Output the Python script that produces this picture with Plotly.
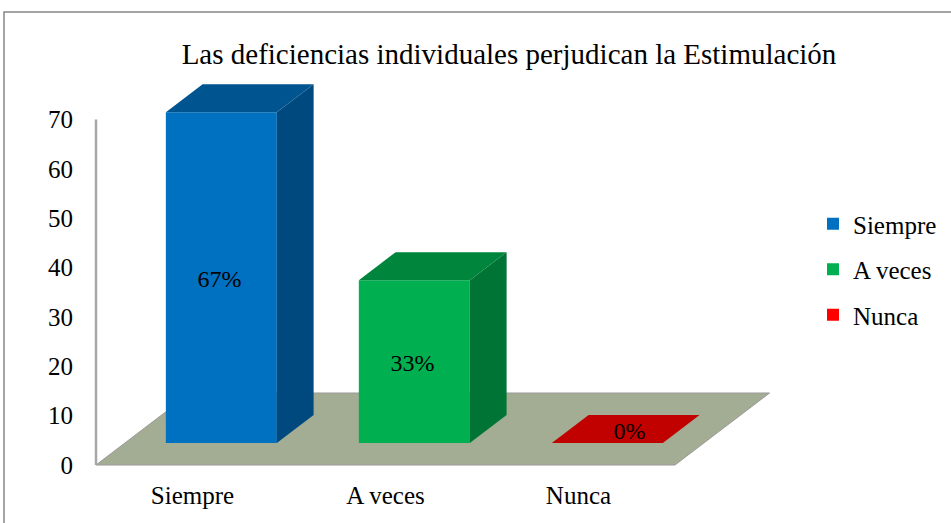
import plotly.graph_objects as go

# ---- data ----
categories = ["Siempre", "A veces", "Nunca"]
values = [67, 33, 0]
labels = ["67%", "33%", "0%"]
colors = ["#0070C0", "#00B050", "#FF0000"]
yticks = [0, 10, 20, 30, 40, 50, 60, 70]
title = "Las deficiencias individuales perjudican la Estimulación"

FONT = "Liberation Serif"

# ---- pseudo-3D projection parameters (axis units) ----
DX, DY = 0.490, 14.59      # full floor depth vector
F1, F2 = 0.305, 0.694      # bar front / back depth fractions
W = 0.575                  # bar width
XMIN, XMAX = -0.5518, 3.096
YMIN, YMAX = -1.013, 78.0
L, R, T, B = 86, 161, 80, 53
PW, PH = 951 - L - R, 523 - T - B


def shade(hexcol, k):
    h = hexcol.lstrip("#")
    r, g, b = (int(h[i:i + 2], 16) for i in (0, 2, 4))
    return "#%02X%02X%02X" % (int(r * k), int(g * k), int(b * k))


fig = go.Figure()

ddx, ddy = (F2 - F1) * DX, (F2 - F1) * DY
yb = F1 * DY
n = len(categories)

# front faces as bars
for i, (c, v, col) in enumerate(zip(categories, values, colors)):
    xc = i + F1 * DX
    fig.add_trace(go.Bar(
        x=[xc], y=[v], base=[yb], width=[W], name=c,
        marker=dict(color=col, line=dict(width=0)),
        legendgroup=c, showlegend=True, hoverinfo="skip",
    ))

# side and top faces
for i, (c, v, col) in enumerate(zip(categories, values, colors)):
    xc = i + F1 * DX
    x0, x1 = xc - W / 2, xc + W / 2
    yt = yb + v
    if v > 0:
        fig.add_trace(go.Scatter(
            x=[x1, x1, x1 + ddx, x1 + ddx, x1], y=[yb, yt, yt + ddy, yb + ddy, yb],
            fill="toself", fillcolor=shade(col, 0.66), mode="lines",
            line=dict(width=0, color=shade(col, 0.66)),
            showlegend=False, hoverinfo="skip", legendgroup=c))
    fig.add_trace(go.Scatter(
        x=[x0, x1, x1 + ddx, x0 + ddx, x0], y=[yt, yt, yt + ddy, yt + ddy, yt],
        fill="toself", fillcolor=shade(col, 0.76), mode="lines",
        line=dict(width=0, color=shade(col, 0.76)),
        showlegend=False, hoverinfo="skip", legendgroup=c))

# data labels
lx, ly = [], []
for i, v in enumerate(values):
    xc = i + F1 * DX
    if v > 0:
        lx.append(xc - 0.01); ly.append(yb + v / 2 - 0.7)
    else:
        lx.append(xc + ddx / 2 + 0.02); ly.append(yb + ddy / 2 - 0.9)
fig.add_trace(go.Scatter(
    x=lx, y=ly, mode="text", text=labels, cliponaxis=False,
    textfont=dict(family=FONT, size=24, color="black"),
    showlegend=False, hoverinfo="skip"))

# vertical axis line
fig.add_trace(go.Scatter(
    x=[-0.5, -0.5], y=[0, max(yticks)], mode="lines",
    line=dict(color="#A6A6A6", width=2.5), showlegend=False, hoverinfo="skip"))

# floor
fx0, fx1 = -0.5, n - 0.5
floor_path = (f"M {fx0},0 L {fx1},0 L {fx1 + DX},{DY} L {fx0 + DX},{DY} Z")
shapes = [
    dict(type="path", xref="x", yref="y", path=floor_path,
         fillcolor="#A3AD93", line=dict(color="#9A9A9A", width=1), layer="below"),
    # chart-area border
    dict(type="rect", xref="paper", yref="paper",
         x0=(4 - L) / PW, x1=(960 - L) / PW,
         y0=(523 - B - 540) / PH, y1=(523 - B - 12) / PH,
         line=dict(color="#868686", width=1.5), fillcolor="rgba(0,0,0,0)", layer="above"),
]

fig.update_layout(
    width=951, height=523,
    margin=dict(l=L, r=R, t=T, b=B, autoexpand=False),
    paper_bgcolor="white", plot_bgcolor="white",
    barmode="overlay",
    font=dict(family=FONT, size=25, color="black"),
    title=dict(text=title, x=509 / 951, xanchor="center", y=1 - 54 / 523, yanchor="middle",
               font=dict(family=FONT, size=29, color="black")),
    xaxis=dict(range=[XMIN, XMAX], tickvals=list(range(n)), ticktext=categories,
               showgrid=False, zeroline=False, showline=False, ticks="", automargin=False,
               tickfont=dict(family=FONT, size=25, color="black"), ticklabelstandoff=8),
    yaxis=dict(range=[YMIN, YMAX], tickvals=yticks, showgrid=False, zeroline=False,
               showline=False, ticks="", automargin=False,
               tickfont=dict(family=FONT, size=25, color="black"),
               ticklabelstandoff=12),
    legend=dict(x=(813 - L) / PW, xanchor="left", y=(523 - B - 201) / PH, yanchor="top",
                traceorder="grouped", tracegroupgap=10,
                font=dict(family=FONT, size=25, color="black"), bgcolor="rgba(0,0,0,0)"),
    shapes=shapes,
    showlegend=True,
)

fig.write_html("out.html", config={"displayModeBar": False},
               post_script="document.body.style.margin='0';")
